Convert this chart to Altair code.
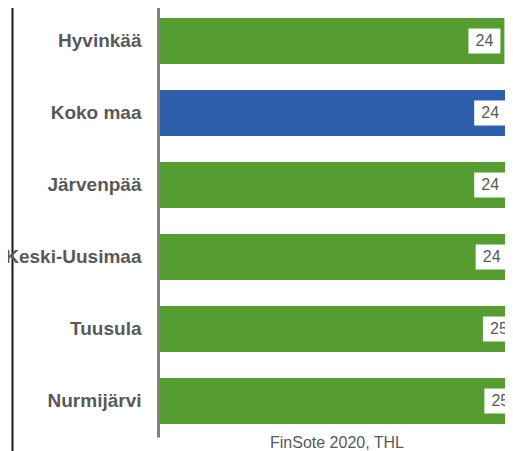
import altair as alt
import pandas as pd

categories = ["Hyvinkää", "Koko maa", "Järvenpää", "Keski-Uusimaa", "Tuusula", "Nurmijärvi"]
values = [23.9, 24.3, 24.3, 24.4, 24.9, 25.0]
groups = ["alue", "maa", "alue", "alue", "alue", "alue"]
source_text = "FinSote 2020, THL"

df = pd.DataFrame({"kunta": categories, "arvo": values, "ryhma": groups})
one = pd.DataFrame({"a": [0]})

FONT = "Liberation Sans"

# svg occupies the page from x=8 to 505 and from y=8 downwards
SVG_W, SVG_H = 497, 443


def sx(p):
    return p - 8


def sy(p):
    return p - 8


PAD_L = sx(158)
PLOT_W = SVG_W - PAD_L

y = alt.Y(
    "kunta:N",
    sort=categories,
    scale=alt.Scale(range=[sy(5), sy(437)], paddingInner=0.36, paddingOuter=0.18),
    axis=alt.Axis(
        title=None, ticks=False, grid=False, domainColor="#808080", domainWidth=3,
        labelFont=FONT, labelFontWeight="bold", labelFontSize=19, labelColor="#595959",
        labelPadding=17, zindex=1, labelLimit=400,
    ),
)
x = alt.X("arvo:Q", scale=alt.Scale(domain=[0, 23.94], nice=False, zero=True), axis=None)

base = alt.Chart(df)

bars = base.mark_bar(clip=True).encode(
    x=x, y=y,
    color=alt.Color("ryhma:N", scale=alt.Scale(domain=["alue", "maa"], range=["#559C31", "#2E5FAC"]), legend=None),
)

boxes = base.mark_bar(clip=True, color="white", height=25, xOffset=-36, x2Offset=-4).encode(
    x=x, x2="arvo:Q", y=y,
)

labels = base.mark_text(clip=True, dx=-20, fontSize=16, color="#595959", font=FONT,
                        baseline="middle", align="center").encode(
    x=x, y=y, text=alt.Text("arvo:Q", format=".0f"),
)

border = alt.Chart(one).mark_rule(color="#1a1a1a", strokeWidth=2).encode(
    x=alt.value(sx(12.5) - PAD_L), y=alt.value(-20), y2=alt.value(SVG_H + 20)
)

caption = alt.Chart(one).mark_text(text=source_text, font=FONT, fontSize=16, color="#595959",
                                   align="center", baseline="alphabetic").encode(
    x=alt.value(sx(337) - PAD_L), y=alt.value(sy(447.5))
)

chart = alt.layer(bars, boxes, labels, border, caption).properties(
    width=PLOT_W, height=SVG_H,
    autosize=alt.AutoSizeParams(type="none"),
    padding={"left": PAD_L, "top": 0, "right": 0, "bottom": 0},
    background="white",
).configure_view(stroke=None)

chart.save("out.html", embed_options={"renderer": "svg", "actions": False})
